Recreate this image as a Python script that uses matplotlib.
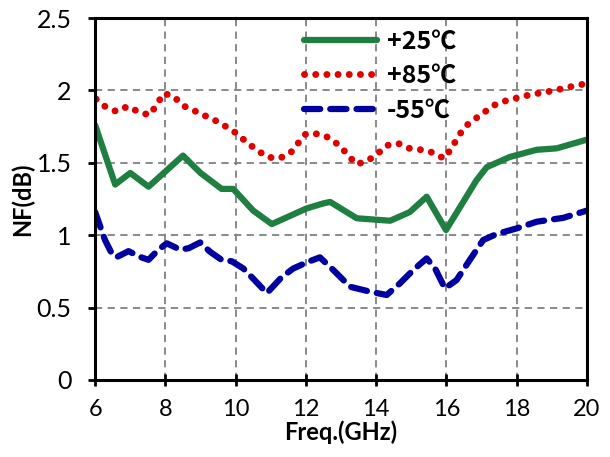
import matplotlib
matplotlib.use("Agg")
import matplotlib.pyplot as plt

plt.rcParams['font.family'] = ['Lato', 'DejaVu Sans']

# +25C curve
f_25 = [6.0, 6.57, 7.0, 7.52, 8.5, 9.0, 9.6, 9.93, 10.5, 11.03, 12.02, 12.5, 12.69,
        13.45, 14.4, 14.96, 15.44, 15.99, 16.86, 17.15, 17.8, 18.57, 19.14, 20.0]
nf_25 = [1.76, 1.35, 1.43, 1.335, 1.55, 1.43, 1.32, 1.32, 1.17, 1.077, 1.185, 1.22, 1.23,
         1.117, 1.10, 1.16, 1.266, 1.036, 1.38, 1.47, 1.54, 1.59, 1.60, 1.66]

# +85C curve
f_85 = [6.03, 6.28, 6.6, 6.93, 7.25, 7.55, 7.75, 7.95, 8.23, 8.5, 8.82, 9.13, 9.44, 9.75,
        10.05, 10.32, 10.6, 10.9, 11.24, 11.55, 11.76, 12.0, 12.33, 12.65, 12.95, 13.18,
        13.43, 13.73, 14.03, 14.3, 14.63, 14.95, 15.28, 15.63, 15.93, 16.15, 16.32, 16.53,
        16.8, 17.08, 17.38, 17.71, 18.04, 18.38, 18.73, 19.09, 19.42, 19.75, 20.0]
nf_85 = [1.94, 1.89, 1.855, 1.89, 1.85, 1.83, 1.90, 1.98, 1.96, 1.895, 1.86, 1.825, 1.79, 1.747,
         1.70, 1.64, 1.59, 1.54, 1.53, 1.565, 1.63, 1.70, 1.70, 1.675, 1.62, 1.56,
         1.49, 1.51, 1.56, 1.62, 1.634, 1.60, 1.59, 1.57, 1.53, 1.60, 1.675, 1.75,
         1.80, 1.85, 1.90, 1.93, 1.95, 1.97, 1.985, 2.0, 2.02, 2.035, 2.05]

# -55C curve
f_55 = [6.0, 6.28, 6.47, 6.6, 6.95, 7.28, 7.52, 7.8, 8.04, 8.42, 8.66, 8.99, 9.27, 9.6,
        9.89, 10.22, 10.5, 10.89, 11.31, 11.64, 12.07, 12.4, 12.78, 13.26, 13.83, 14.3,
        14.68, 15.06, 15.44, 15.68, 15.96, 16.29, 16.67, 17.05, 17.43, 18.0, 18.57, 19.33, 20.0]
nf_55 = [1.16, 0.967, 0.875, 0.847, 0.89, 0.85, 0.83, 0.90, 0.944, 0.90, 0.91, 0.95, 0.886, 0.83,
         0.82, 0.77, 0.70, 0.60, 0.71, 0.77, 0.817, 0.847, 0.76, 0.644, 0.61, 0.587,
         0.668, 0.76, 0.84, 0.77, 0.633, 0.69, 0.83, 0.967, 1.008, 1.047, 1.093, 1.12, 1.17]

x_ticks = [6, 8, 10, 12, 14, 16, 18, 20]
y_ticks = [0, 0.5, 1, 1.5, 2, 2.5]
y_tick_labels = ['0', '0.5', '1', '1.5', '2', '2.5']

fig = plt.figure(figsize=(6.1, 4.57), dpi=100)
ax = fig.add_axes([0.156, 0.1685, 0.806, 0.792])

ax.plot(f_25, nf_25, color='#1e7f40', lw=4.5, solid_capstyle='round',
        solid_joinstyle='round', label='+25℃')
ax.plot(f_85, nf_85, color='#e00000', lw=5, linestyle=(0, (0.01, 1.6)),
        dash_capstyle='round', label='+85℃')
ax.plot(f_55, nf_55, color='#0000a0', lw=4.5, linestyle=(0, (2.6, 1.6)),
        dash_capstyle='round', label='-55℃')

ax.set_xlim(6, 20)
ax.set_ylim(0, 2.5)
ax.set_xticks(x_ticks)
ax.set_yticks(y_ticks)
ax.set_yticklabels(y_tick_labels)
ax.grid(True, color='#808080', linestyle=(0, (4, 3)), lw=1.3)
ax.set_axisbelow(True)
for s in ax.spines.values():
    s.set_linewidth(2.2)
ax.tick_params(axis='x', direction='inout', length=8, width=2, labelsize=17, pad=10)
ax.tick_params(axis='y', direction='out', length=5, width=2, labelsize=18, pad=12)

ax.set_xlabel('Freq.(GHz)', fontsize=17, fontweight='bold', labelpad=0)
ax.set_ylabel('NF(dB)', fontsize=17, fontweight='bold', labelpad=2)

leg = ax.legend(loc='upper left', bbox_to_anchor=(0.38, 1.03), frameon=False,
                handlelength=2.9, labelspacing=0.42, handletextpad=0.4,
                prop={'family': ['Noto Sans CJK SC'], 'weight': 'bold', 'size': 18})

fig.savefig('out.png', dpi=100)
